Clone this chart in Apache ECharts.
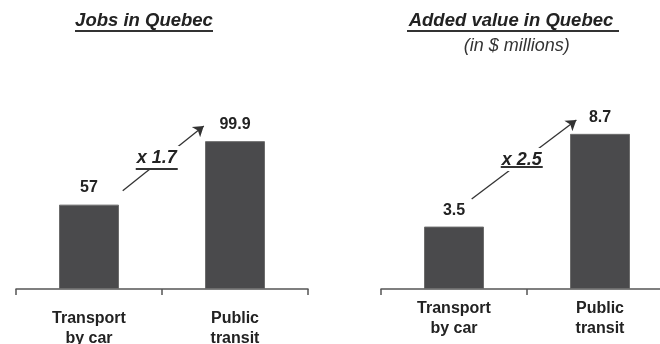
<!DOCTYPE html>
<html>
<head>
<meta charset="utf-8">
<script src="https://cdn.jsdelivr.net/npm/echarts@6/dist/echarts.min.js"></script>
<style>
  html, body { margin: 0; padding: 0; background: #fff; }
  #chart { width: 660px; height: 344px; }
</style>
</head>
<body>
<div id="chart"></div>
<script>
// Categories shared by both panels
const categories = ['Transport\nby car', 'Public\ntransit'];

// Jobs in Quebec
const jobsValues = [57, 99.9];
const jobsRatio = 'x 1.7';

// Added value in Quebec (in $ millions)
const valueAdded = [3.5, 8.7];
const valueRatio = 'x 2.5';

// Growth arrows, in [category position, value] units of each panel
const jobsArrow = [[0.231, 66.4], [0.786, 110.2]];
const valueArrow = [[0.121, 5.05], [0.838, 9.48]];
// Where the ratio callouts sit, same units
const jobsRatioAt = [0.464, 88.5];
const valueRatioAt = [0.464, 7.26];

const FONT = 'Arial, "Liberation Sans", Helvetica, sans-serif';
const INK = '#222';
const BAR = '#4a4a4c';

const chart = echarts.init(document.getElementById('chart'), null, { renderer: 'canvas' });

function catAxis(gridIndex, margin) {
  return {
    type: 'category', gridIndex, data: categories,
    axisLine: { lineStyle: { color: '#555', width: 1.5 } },
    axisTick: { show: true, length: 6, lineStyle: { color: '#555', width: 1.5 } },
    axisLabel: {
      margin, color: INK, fontFamily: FONT, fontWeight: 'bold', fontSize: 16, lineHeight: 20
    }
  };
}
function posAxis(gridIndex) {
  return { type: 'value', gridIndex, min: -0.5, max: 1.5, show: false };
}
function valAxis(gridIndex, max) {
  return { type: 'value', gridIndex, min: 0, max, show: false, splitLine: { show: false } };
}
function barSeries(i, data, dist) {
  return {
    type: 'bar', xAxisIndex: i * 2, yAxisIndex: i, data, barWidth: 60,
    itemStyle: { color: BAR, borderColor: '#6c6c6c', borderWidth: 1 },
    label: {
      show: true, position: 'top', distance: dist, color: INK,
      fontFamily: FONT, fontWeight: 'bold', fontSize: 16
    },
    silent: true, z: 2
  };
}
function arrowSeries(i, coords) {
  return {
    type: 'lines', coordinateSystem: 'cartesian2d', xAxisIndex: i * 2 + 1, yAxisIndex: i,
    symbol: ['none', 'arrow'], symbolSize: [7, 10],
    lineStyle: { color: '#333', width: 1.3, opacity: 1 },
    data: [{ coords }], silent: true, z: 3
  };
}
function ratioSeries(i, at, text, tLine, pad) {
  return {
    type: 'scatter', xAxisIndex: i * 2 + 1, yAxisIndex: i,
    symbolSize: 0, data: [at], silent: true, z: 5,
    itemStyle: { opacity: 1 },
    label: {
      show: true, position: 'inside', formatter: '{t|' + text + '}\n{u|}',
      backgroundColor: '#fff', padding: pad, opacity: 1,
      rich: {
        t: { fontFamily: FONT, fontWeight: 'bold', fontStyle: 'italic', fontSize: 18,
             color: INK, lineHeight: tLine, align: 'center' },
        u: { backgroundColor: '#333', width: 42, height: 2, lineHeight: 2, align: 'center' }
      }
    }
  };
}

chart.setOption({
  animation: false,
  backgroundColor: '#fff',
  grid: [
    { left: 16, width: 292, top: 67, bottom: 55, containLabel: false, outerBoundsMode: 'none' },
    { left: 381, width: 292, top: 75, bottom: 55, containLabel: false, outerBoundsMode: 'none' }
  ],
  xAxis: [catAxis(0, 20), posAxis(0), catAxis(1, 10), posAxis(1)],
  yAxis: [valAxis(0, 150), valAxis(1, 12)],
  series: [
    barSeries(0, jobsValues, 9),
    barSeries(1, valueAdded, 8),
    arrowSeries(0, jobsArrow),
    arrowSeries(1, valueArrow),
    ratioSeries(0, jobsRatioAt, jobsRatio, 20, [2, 2, 0, 2]),
    ratioSeries(1, valueRatioAt, valueRatio, 12, [6, 2, 3, 2])
  ],
  graphic: [
    { type: 'text', x: 144, y: 21, z: 10,
      style: { text: 'Jobs in Quebec', fill: INK, align: 'center', verticalAlign: 'middle',
               font: 'italic bold 18.5px ' + FONT } },
    { type: 'line', z: 10, shape: { x1: 75, y1: 31, x2: 213, y2: 31 },
      style: { stroke: '#333', lineWidth: 2 } },
    { type: 'text', x: 511, y: 21, z: 10,
      style: { text: 'Added value in Quebec', fill: INK, align: 'center', verticalAlign: 'middle',
               font: 'italic bold 18.5px ' + FONT } },
    { type: 'line', z: 10, shape: { x1: 407, y1: 31, x2: 619, y2: 31 },
      style: { stroke: '#333', lineWidth: 2 } },
    { type: 'text', x: 516.7, y: 46, z: 10,
      style: { text: '(in $ millions)', fill: '#333', align: 'center', verticalAlign: 'middle',
               font: 'italic 18px ' + FONT } }
  ]
});
</script>
</body>
</html>
